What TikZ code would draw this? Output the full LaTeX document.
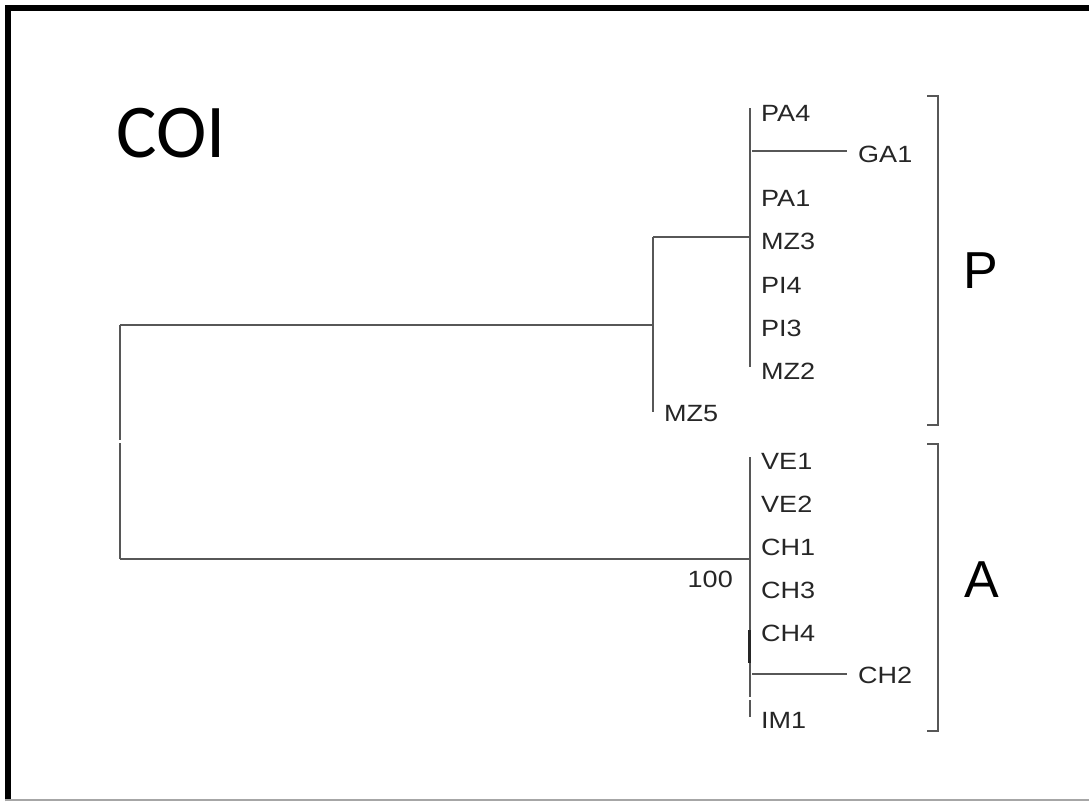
\documentclass[tikz,border=0pt]{standalone}
\usepackage{fontspec}
\setmainfont{Liberation Sans}
\newfontfamily\titlefont{Carlito}
\newfontfamily\leaffont[FakeStretch=1.15]{Liberation Sans}
\begin{document}
\begin{tikzpicture}[x=1pt,y=-1pt,
  branch/.style={draw=black!66,line width=2.3pt},
  brk/.style={draw=black!66,line width=2.3pt},
  leaf/.style={anchor=west,inner sep=0pt,font=\leaffont\fontsize{23.5}{23.5}\selectfont,text=black!85},
  big/.style={inner sep=0pt,font=\fontsize{52}{52}\selectfont,text=black}]
\useasboundingbox (0,0) rectangle (1089,801);
\fill[white] (0,0) rectangle (1089,801);
% frame
\draw[black,line width=6pt] (8,801) -- (8,8) -- (1089,8);
\draw[black!35,line width=2pt] (5,799.5) -- (1089,799.5);
% title
\node[inner sep=0pt,anchor=west,font=\titlefont\fontsize{76}{76}\selectfont] (title) at (116,133) {COI};
% coordinates
\coordinate (rtop) at (120,325);
\coordinate (rgap1) at (120,440);
\coordinate (rgap2) at (120,443);
\coordinate (rbot) at (120,559);
\coordinate (pnode) at (653,325);
\coordinate (ptop) at (653,237);
\coordinate (pbot) at (653,412);
\coordinate (pcl) at (750,237);
\coordinate (pcltop) at (750,108);
\coordinate (pclbot) at (750,367);
\coordinate (ga1b) at (752,151);
\coordinate (anode) at (749,559);
\coordinate (atop) at (750,457);
\coordinate (abot) at (750,717);
\coordinate (ch2b) at (752,674);
% labels
\node[leaf] (PA4) at (761,113) {PA4};
\node[leaf] (GA1) at (858,154) {GA1};
\node[leaf] (PA1) at (761,198) {PA1};
\node[leaf] (MZ3) at (761,241.5) {MZ3};
\node[leaf] (PI4) at (761,285) {PI4};
\node[leaf] (PI3) at (761,328) {PI3};
\node[leaf] (MZ2) at (761,371) {MZ2};
\node[leaf] (MZ5) at (664,414) {MZ5};
\node[leaf] (VE1) at (761,461) {VE1};
\node[leaf] (VE2) at (761,504) {VE2};
\node[leaf] (CH1) at (761,547) {CH1};
\node[leaf] (CH3) at (761,590) {CH3};
\node[leaf] (CH4) at (761,633) {CH4};
\node[leaf] (CH2) at (858,675) {CH2};
\node[leaf] (IM1) at (761,720) {IM1};
\node[leaf,anchor=east] (boot) at (733,579) {100};
% tree
\draw[branch] (rtop) -- (rgap1);
\draw[branch] (rgap2) -- (rbot);
\draw[branch] (rtop) -- (pnode);
\draw[branch] (rbot) -- (anode);
\draw[branch] (ptop) -- (pbot);
\draw[branch] (ptop) -- (pcl);
\draw[branch] (pcltop) -- (pclbot);
\draw[branch] (ga1b) -- (847,151) coordinate (ga1e);
\draw[branch] (atop) -- (750,697);
\draw[branch] (750,700) -- (abot);
\draw[black!85,line width=3pt] (749,630) -- (749,663);
\draw[branch] (ch2b) -- (847,674) coordinate (ch2e);
% brackets
\draw[brk] (927,96) -- (938,96) -- (938,425) -- (927,425);
\draw[brk] (927,444) -- (938,444) -- (938,731) -- (927,731);
\node[big] (P) at (981,271) {P};
\node[big] (A) at (982,580) {A};
\end{tikzpicture}
\end{document}
